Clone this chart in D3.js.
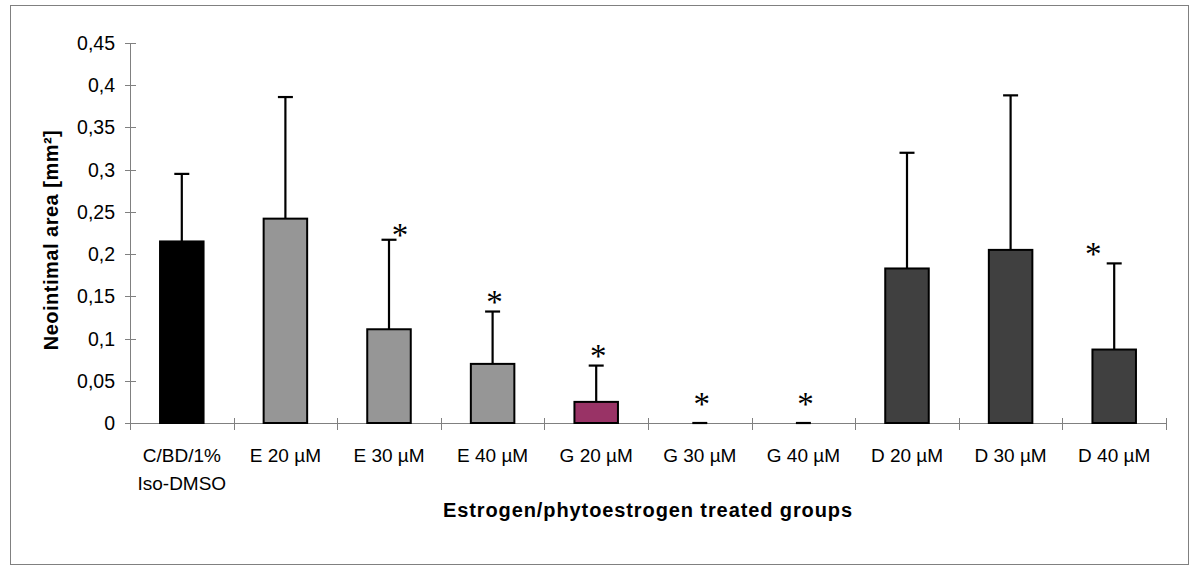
<!DOCTYPE html>
<html>
<head>
<meta charset="utf-8">
<script src="https://cdn.jsdelivr.net/npm/d3@7"></script>
<style>
  body { margin: 0; background: #fff; }
  text { font-family: "Liberation Sans", Arial, sans-serif; fill: #000; }
</style>
</head>
<body>
<script>
(function () {
  const groups = ['C/BD/1%\nIso-DMSO', 'E 20 µM', 'E 30 µM', 'E 40 µM', 'G 20 µM',
    'G 30 µM', 'G 40 µM', 'D 20 µM', 'D 30 µM', 'D 40 µM'];
  const means = [0.215, 0.242, 0.111, 0.070, 0.025, 0, 0, 0.183, 0.205, 0.087];
  const errTops = [0.295, 0.386, 0.217, 0.132, 0.068, 0, 0, 0.320, 0.388, 0.189];
  const stars = ['', '', 'right', 'center', 'center', 'center', 'center', '', '', 'left'];
  const fills = ['#000000', '#969696', '#969696', '#969696', '#993366',
    '#969696', '#969696', '#404040', '#404040', '#404040'];
  const yTicks = [0, 0.05, 0.1, 0.15, 0.2, 0.25, 0.3, 0.35, 0.4, 0.45];

  const width = 1200;
  const height = 575;
  const margin = { left: 130, right: 34, top: 43, bottom: 152 };

  const svg = d3.select('body').append('svg')
    .attr('width', width)
    .attr('height', height);

  svg.append('rect')
    .attr('x', 10.5).attr('y', 5.5)
    .attr('width', 1178).attr('height', 559)
    .attr('fill', 'none')
    .attr('stroke', '#808080');

  const x = d3.scaleBand()
    .domain(groups)
    .range([margin.left, width - margin.right])
    .paddingInner(0.58)
    .paddingOuter(0.29);

  const y = d3.scaleLinear()
    .domain([0, 0.45])
    .range([height - margin.bottom, margin.top]);

  const fmt = v => String(v).replace('.', ',');

  // y axis
  const yAxis = svg.append('g');
  yAxis.append('line')
    .attr('x1', margin.left + 0.5).attr('x2', margin.left + 0.5)
    .attr('y1', y(0.45)).attr('y2', y(0))
    .attr('stroke', '#808080');
  yAxis.selectAll('.tick')
    .data(yTicks)
    .enter()
    .append('line')
    .attr('x1', margin.left - 5).attr('x2', margin.left + 6)
    .attr('y1', d => Math.round(y(d)) + 0.5)
    .attr('y2', d => Math.round(y(d)) + 0.5)
    .attr('stroke', '#808080');
  yAxis.selectAll('.lbl')
    .data(yTicks)
    .enter()
    .append('text')
    .attr('x', 115)
    .attr('y', d => y(d) + 7)
    .attr('text-anchor', 'end')
    .style('font-size', '19.5px')
    .text(fmt);

  // x axis
  const x0 = margin.left, x1 = width - margin.right;
  const xAxis = svg.append('g');
  xAxis.append('line')
    .attr('x1', x0).attr('x2', x1)
    .attr('y1', Math.round(y(0)) + 0.5).attr('y2', Math.round(y(0)) + 0.5)
    .attr('stroke', '#808080');
  xAxis.selectAll('.tick')
    .data(d3.range(groups.length + 1))
    .enter()
    .append('line')
    .attr('x1', i => Math.round(x0 + (x1 - x0) * i / groups.length) + 0.5)
    .attr('x2', i => Math.round(x0 + (x1 - x0) * i / groups.length) + 0.5)
    .attr('y1', y(0) - 5).attr('y2', y(0) + 7)
    .attr('stroke', '#808080');

  const lbl = xAxis.selectAll('.lbl')
    .data(groups)
    .enter()
    .append('text')
    .attr('text-anchor', 'middle')
    .style('font-size', '19px')
    .attr('transform', d => `translate(${x(d) + x.bandwidth() / 2},462)`);
  lbl.selectAll('tspan')
    .data(d => d.split('\n'))
    .enter()
    .append('tspan')
    .attr('x', 0)
    .attr('dy', (d, i) => i ? 28 : 0)
    .text(d => d);

  // bars
  svg.selectAll('.bar')
    .data(groups.filter((g, i) => means[i] > 0))
    .enter()
    .append('rect')
    .attr('x', d => x(d))
    .attr('width', x.bandwidth())
    .attr('y', d => y(means[groups.indexOf(d)]))
    .attr('height', d => y(0) - y(means[groups.indexOf(d)]))
    .attr('fill', d => fills[groups.indexOf(d)])
    .attr('stroke', '#000')
    .attr('stroke-width', 2);

  // error bars (upper only)
  const err = svg.append('g').attr('stroke', '#000').attr('stroke-width', 2.2);
  groups.forEach((g, i) => {
    const cx = x(g) + x.bandwidth() / 2;
    if (errTops[i] > means[i]) {
      err.append('line')
        .attr('x1', cx).attr('x2', cx)
        .attr('y1', y(means[i])).attr('y2', y(errTops[i]));
    }
    err.append('line')
      .attr('x1', cx - 7.5).attr('x2', cx + 7.5)
      .attr('y1', y(errTops[i])).attr('y2', y(errTops[i]));
  });

  // significance stars: glyph centre sits ~15px above the baseline
  const dx = { left: -21, right: 11, center: 2 };
  const dy = { left: -14, right: -10, center: -15 };
  svg.selectAll('.star')
    .data(groups.filter((g, i) => stars[i]))
    .enter()
    .append('text')
    .attr('text-anchor', 'middle')
    .style('font-family', '"Liberation Serif", "Times New Roman", serif')
    .style('font-size', '33px')
    .attr('x', d => x(d) + x.bandwidth() / 2 + dx[stars[groups.indexOf(d)]])
    .attr('y', d => {
      const i = groups.indexOf(d);
      const off = errTops[i] ? dy[stars[i]] : -24;
      return y(errTops[i]) + off + 16;
    })
    .text('*');

  // titles
  svg.append('text')
    .attr('x', (x0 + x1) / 2)
    .attr('y', 517)
    .attr('text-anchor', 'middle')
    .style('font-size', '20px')
    .style('font-weight', 'bold')
    .style('letter-spacing', '0.9px')
    .text('Estrogen/phytoestrogen treated groups');

  svg.append('text')
    .attr('transform', 'translate(58,240) rotate(-90)')
    .attr('text-anchor', 'middle')
    .style('font-size', '20px')
    .style('font-weight', 'bold')
    .style('letter-spacing', '0.5px')
    .text('Neointimal area [mm²]');
})();
</script>
</body>
</html>
